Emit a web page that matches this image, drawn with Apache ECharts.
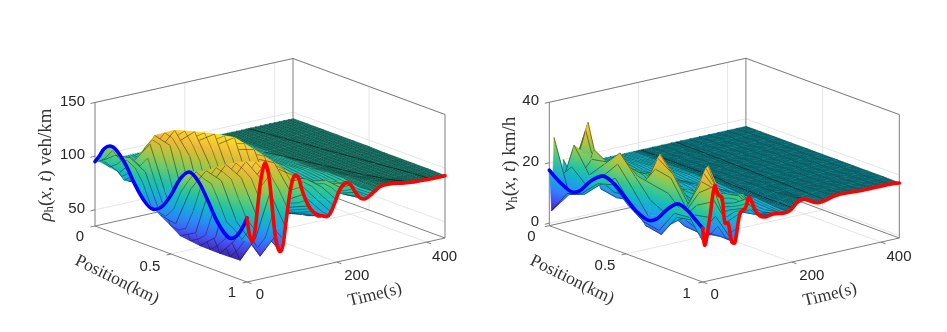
<!DOCTYPE html>
<html><head><meta charset="utf-8">
<style>html,body{margin:0;padding:0;background:#fff}#c{width:947px;height:332px}</style>
<script src="https://cdn.jsdelivr.net/npm/echarts@6/dist/echarts.min.js"></script>
</head><body><div id="c"></div>
<script>
const positions=[0,0.1,0.2,0.3,0.4,0.5,0.6,0.7,0.8,0.9,1];
const rhoTimes=[0,10.5,21,31.5,42,52.5,63,73.5,84,94.5,105,115.5,126,136.5,147,157.5,168,178.5,189,199.5,210,220.5,231,241.5,252,262.5,273,283.5,294,304.5,315,325.5,336,346.5,357,367.5,378,388.5,399,409.5,420,430.5,441];
const rho=[
[95,115,103,80,72,90,116,108,80,72,94.6],
[94,105,108,100,65,62,100,122,118,85,71],
[93,88,105,125,85,50,58,108,132,125,95],
[93,80,92,132,128,78,45,58,115,139,128],
[94,78,82,118,141,122,70,42,60,118,142],
[94,80,78,95,130,144,118,65,40,65,115],
[94,84,78,82,105,135,146,112,62,48,72],
[94,88,82,78,88,112,136,147,108,68,57],
[94,91,86,80,80,92,116,135,140,106,80],
[94,93,90,84,78,82,96,118,130,132,112],
[94,94,92,88,80,77,84,98,116,125,124],
[94,94,94,91,84,77,76,86,98,110,120],
[94,94,95,94,88,80,74,78,87,95,105],
[94,94,95,96,92,85,76,74,80,87,93],
[94,94,94,96,96,90,82,74,76,81,87],
[94,94,94,95,97,96,88,80,74,78,82],
[94,94,93,94,96,98,96,87,79,76,81],
[94,93,93,93,94,96,99,96,87,80,78],
[94,94,93,92,92,94,97,100,97,89,82],
[94,94,94,92,91,92,94,98,102,100,93],
[94,94,94,93,91,90,91,94,99,105,103],
[94,94,94,94,92,90,89,91,94,101,107],
[94,94,94,94,92,90,90,88,90,95,104],
[94,94,94,94,94,92,90,90,88,90,96],
[94,94,94,94,94,94,92,90,90,88,90],
[94,94,94,94,94,94,94,92,90,90,88],
[94,94,94,94,94,94,95,94,92,90,90],
[94,94,94,94,94,94,94,95,95,92,93],
[94,94,94,94,94,94,94,95,96,95,96],
[94,94,94,94,94,94,94,94,95,96,97],
[94,94,94,94,94,94,94,94,94,96,97],
[94,94,94,94,94,94,94,94,94,95,97],
[94,94,94,94,94,94,94,94,94,94.5,96.5],
[94,94,94,94,94,94,94,94,94,94,96],
[94,94,94,94,94,94,94,94,94,94,95.5],
[94,94,94,94,94,94,94,94,94,94,95],
[94,94,94,94,94,94,94,94,94,94,94.5],
[94,94,94,94,94,94,94,94,94,94,94],
[94,94,94,94,94,94,94,94,94,94,93.5],
[94,94,94,94,94,94,94,94,94,93.5,93.5],
[94,94,94,94,94,94,94,94,93.5,93.5,93],
[94,94,94,94,94,94,94,93.5,93.5,93.5,93],
[94,94,94,94,94,94,93.5,93.5,93.5,93.5,93]];
const rhoBlueX=[0,0.03,0.06,0.1,0.14,0.2,0.26,0.32,0.38,0.44,0.5,0.56,0.62,0.68,0.74,0.8,0.85,0.89,0.93,0.97,1];
const rhoBlue=[95,102,110,114.7,113,103,88,76,70.5,76,90,108,117.6,112,98,82,73,70,74,84,94.6];
const rhoRedT=[0,5,11.5,17,23,30,36,40,45,50,56,63,69,74,80,86,94,101,107,114,122,131,140,147,158,168,178,186,197,207,220,231,240,252,263,273,284,295,305,325,345,365,385,410,441];
const rhoRed=[94.6,80,71,79,100,125,138,142,137,125,100,72,60,56.5,62,80,105,120,124.5,122,110,99,91,87,82,81,79.5,82,92,102,107,104,97,90,88,90,93,96,97,96.5,95,94,93.5,93,93];
const rhoBands=[[341,348,354,361,367,374,381,387,394,400,407],[null,null,null,275,286,296,307,317,328,338,349]];

const velTimes=[0,5.25,10.5,15.75,21,26.25,31.5,36.75,42,47.25,52.5,57.75,63,73.5,84,94.5,105,115.5,126,136.5,147,157.5,168,178.5,189,199.5,210,231,252,273,294,315,336,357,378,399,420,441];
const vel=[
[17.6,13.8,15.0,20.5,21.0,17.5,14.0,14.5,21.0,20.5,17.0],
[4.0,11.5,13.5,18.5,20.0,15.0,11.5,10.5,18.0,18.5,11.2],
[28.0,11.0,13.0,18.0,22.0,15.5,10.0,9.0,16.5,17.5,14.0],
[14.0,20.0,15.5,20.5,26.5,20.0,13.0,11.0,15.5,19.0,20.0],
[9.0,27.0,19.0,24.5,30.0,24.0,18.0,15.5,15.5,22.0,25.0],
[14.0,15.0,24.0,25.0,28.5,24.0,23.0,22.0,17.0,26.0,30.0],
[20.0,12.0,27.0,24.0,24.0,20.5,28.0,27.0,19.0,29.5,28.5],
[12.0,16.0,24.0,19.0,19.0,19.0,31.5,28.0,20.0,32.0,27.0],
[9.0,24.0,17.0,14.5,15.0,21.0,32.5,26.5,20.0,33.5,26.0],
[12.0,31.0,13.5,12.5,13.5,19.5,29.0,23.0,18.0,34.0,22.0],
[16.0,33.5,13.0,13.0,14.0,16.0,23.0,18.0,14.5,29.0,17.0],
[13.0,24.0,14.0,15.0,16.0,14.0,16.5,13.0,11.0,23.0,16.0],
[14.0,16.0,16.0,18.0,18.0,14.5,12.5,10.0,9.5,17.0,11.5],
[16.0,15.0,19.0,22.0,21.0,17.0,12.0,10.0,9.5,10.0,9.8],
[17.0,16.5,17.5,20.0,21.0,19.0,15.0,12.5,11.0,14.0,19.2],
[17.5,18.0,16.0,17.0,18.0,19.0,18.0,16.0,14.5,18.0,20.5],
[17.5,18.0,17.0,16.0,16.0,17.0,19.0,19.0,18.0,20.0,23.5],
[17.5,17.0,18.0,17.0,15.5,15.0,16.0,18.0,21.0,22.0,19.5],
[17.5,17.0,17.0,18.0,16.5,15.0,14.5,15.0,18.0,22.0,17.0],
[17.5,17.5,16.5,17.0,17.0,16.0,14.5,14.0,15.0,18.0,16.1],
[17.5,17.5,17.0,16.5,17.0,17.0,15.5,14.5,14.0,15.0,16.3],
[17.5,17.5,17.5,17.0,16.5,17.0,16.5,15.5,14.5,14.5,16.5],
[17.5,17.5,17.5,17.5,17.0,16.5,17.0,16.5,15.5,15.0,16.2],
[17.5,17.5,17.5,17.5,17.5,17.0,16.5,17.0,16.5,16.0,16.0],
[17.5,17.5,17.5,17.5,17.5,17.5,17.0,16.5,17.0,16.5,16.2],
[17.5,17.5,17.5,17.5,17.5,17.5,17.0,17.0,16.8,16.8,16.8],
[17.5,17.5,17.5,17.5,17.5,17.5,17.3,17.2,17.2,17.5,18.0],
[17.5,17.5,17.5,17.5,17.5,17.5,17.5,17.5,17.6,18.0,18.7],
[17.5,17.5,17.5,17.5,17.5,17.5,17.5,17.5,17.4,17.2,17.0],
[17.5,17.5,17.5,17.5,17.5,17.5,17.5,17.5,17.5,17.5,17.5],
[17.5,17.5,17.5,17.5,17.5,17.5,17.5,17.5,17.6,17.8,18.0],
[17.5,17.5,17.5,17.5,17.5,17.5,17.5,17.5,17.6,17.7,17.9],
[17.5,17.5,17.5,17.5,17.5,17.5,17.5,17.5,17.6,17.7,17.8],
[17.5,17.5,17.5,17.5,17.5,17.5,17.5,17.5,17.5,17.6,17.7],
[17.5,17.5,17.5,17.5,17.5,17.5,17.5,17.5,17.5,17.6,17.7],
[17.5,17.5,17.5,17.5,17.5,17.5,17.5,17.5,17.5,17.6,17.7],
[17.5,17.5,17.5,17.5,17.5,17.5,17.5,17.5,17.5,17.5,17.6],
[17.5,17.5,17.5,17.5,17.5,17.5,17.5,17.5,17.5,17.5,17.4]];
const velBlueX=[0,0.05,0.1,0.146,0.2,0.27,0.35,0.42,0.5,0.57,0.643,0.7,0.77,0.838,0.9,0.95,1];
const velBlue=[17.6,15.5,14,13.1,14.5,19,22.1,21,17.5,14.5,13,14.5,19,22,21,19,16.9];
const velRedT=[0,5,16,27,35,43,50,57,65,72,84,96,104,118,128,140,158,181,195,222,258,300,359,420,441];
const velRed=[17,11.2,20,30.2,26.8,25.8,17,16.8,10.4,9.8,19.2,20.5,23.8,19.1,16.9,16.1,16.5,16,16.3,19.3,16.9,18,17.7,17.7,17.4];
const velBands=[[284,283,282,281,280,279,277,276,275,273,272],[205,205,205,205,205,205,205,205,205,205,205]];

const rhoZTicks=[50,100,150], velZTicks=[0,20,40];
const posTicks=[0,0.5,1], timeTicks=[0,200,400];

const parula=[[62,38,168],[71,76,238],[50,122,253],[33,157,232],[17,184,199],[47,198,151],[118,203,102],[184,196,56],[236,185,57],[253,210,48],[249,251,21]];
function pcolor(f,d){f=Math.max(0,Math.min(1,f))*10;const k=Math.min(9,Math.floor(f)),u=f-k,a=parula[k],b=parula[k+1];
 const c=[0,1,2].map(n=>Math.round((a[n]+(b[n]-a[n])*u)*d));return 'rgb('+c.join(',')+')';}

const panels=[
 {name:'rho',L:[95,226],xv:[152,56],tv:[198,-44],zs:1.074,zmin:35,zmax:150,tmax:441,clim:[42,154],rows:rho,times:rhoTimes,
  blueX:rhoBlueX,blue:rhoBlue,redT:rhoRedT,red:rhoRed,bands:rhoBands,dense:27,zTicks:rhoZTicks,
  zLabelX:85,posOff:[[-15,11],[-21,13],[-15,11]],timeOff:[[13,13],[20,14],[18,15]],
  zt:[46,165],pt:[117,280],tt:[375,295]},
 {name:'vel',L:[549.3,225.7],xv:[153.4,56.3],tv:[196.6,-44],zs:3.025,zmin:-0.8,zmax:40,tmax:441,clim:[4,37.7],rows:vel,times:velTimes,
  blueX:velBlueX,blue:velBlue,redT:velRedT,red:velRed,bands:velBands,dense:24,zTicks:velZTicks,
  zLabelX:539,posOff:[[-18,11],[-21,12],[-16,12]],timeOff:[[12,13],[20,14],[18,15]],
  zt:[510,164],pt:[572,280],tt:[830,295]}
];
function proj(P,x,t,z,api){
 const sx=P.L[0]+P.xv[0]*x+P.tv[0]*t/P.tmax;
 const sy=P.L[1]+P.xv[1]*x+P.tv[1]*t/P.tmax-(z-P.zmin)*P.zs;
 return api.coord([sx,sy]);
}
function lerp(a,b,u){return [a[0]+(b[0]-a[0])*u,a[1]+(b[1]-a[1])*u];}
function line(pts,color,w){return {type:'polyline',silent:true,shape:{points:pts},style:{fill:null,stroke:color,lineWidth:w}};}

function triangle(P,a,b,c,za,zb,zc,d){
 const nf=z=>(z-P.clim[0])/(P.clim[1]-P.clim[0]);
 const lo=Math.min(za,zb,zc),hi=Math.max(za,zb,zc);
 const m11=b[0]-a[0],m12=b[1]-a[1],m21=c[0]-a[0],m22=c[1]-a[1],det=m11*m22-m12*m21;
 let fill=pcolor(nf((lo+hi)/2),d);
 if(hi-lo>=0.2&&Math.abs(det)>0.5){
  const r1=zb-za,r2=zc-za,gx=(r1*m22-r2*m12)/det,gy=(m11*r2-m21*r1)/det,g2=gx*gx+gy*gy;
  if(g2>1e-9){
   const s0=(lo-za)/g2,s1=(hi-za)/g2;
   fill={type:'linear',global:true,x:a[0]+gx*s0,y:a[1]+gy*s0,x2:a[0]+gx*s1,y2:a[1]+gy*s1,
    colorStops:[0,0.25,0.5,0.75,1].map(u=>({offset:u,color:pcolor(nf(lo+(hi-lo)*u),d)}))};
  }
 }
 return {type:'polygon',silent:true,shape:{points:[a,b,c]},style:{fill,stroke:fill,lineWidth:0.45}};
}
function surfaceSeries(P){
 const nx=positions.length,nt=P.times.length,data=[];
 for(let i=0;i<nx-1;i++)for(let j=nt-2;j>=0;j--)data.push([i,j]);
 return {type:'custom',coordinateSystem:'cartesian2d',silent:true,animation:false,clip:false,data,
  renderItem(params,api){
   const i=api.value(0),j=api.value(1),R=P.rows,T=P.times,X=positions;
   const zz=[R[j][i],R[j][i+1],R[j+1][i+1],R[j+1][i]];
   const pts=[proj(P,X[i],T[j],zz[0],api),proj(P,X[i+1],T[j],zz[1],api),proj(P,X[i+1],T[j+1],zz[2],api),proj(P,X[i],T[j+1],zz[3],api)];
   const isDense=j>=P.dense, d=isDense?0.72:1;
   const kids=[];
   const diagA=Math.abs(zz[0]-zz[2])<=Math.abs(zz[1]-zz[3]);
   if(diagA){
    kids.push(triangle(P,pts[0],pts[2],pts[3],zz[0],zz[2],zz[3],d));
    kids.push(triangle(P,pts[0],pts[1],pts[2],zz[0],zz[1],zz[2],d));
   }else{
    kids.push(triangle(P,pts[1],pts[2],pts[3],zz[1],zz[2],zz[3],d));
    kids.push(triangle(P,pts[0],pts[1],pts[3],zz[0],zz[1],zz[3],d));
   }
   if(isDense){
    const n=14,zig=[];
    for(let m=0;m<=n;m++)zig.push(m%2?lerp(pts[3],pts[2],m/n):lerp(pts[0],pts[1],m/n));
    kids.push(line(zig,'rgba(0,0,0,0.3)',0.5));
   }else if(T[j+1]-T[j]>=10){
    const mid=diagA?lerp(pts[0],pts[2],0.5):lerp(pts[1],pts[3],0.5);
    kids.push(line([lerp(pts[0],pts[3],0.5),mid,lerp(pts[1],pts[2],0.5)],'rgba(0,0,0,0.62)',0.55));
   }
   kids.push(line([pts[3],pts[2]],isDense?'rgba(0,0,0,0.45)':'rgba(0,0,0,0.72)',0.6));
   P.bands.forEach(b=>{
    if(b[i]==null||b[i+1]==null)return;
    if(b[i]>=T[j]&&b[i]<T[j+1]){
     const a=proj(P,X[i],b[i],zz[0],api),c=proj(P,X[i+1],b[i+1],zz[1],api);
     kids.push(line([a,c],'rgba(0,0,0,0.6)',0.9));
    }
   });
   return {type:'group',children:kids};
  }};
}
function pathSeries(P,kind){
 const isBlue=kind==='blue';
 return {type:'custom',coordinateSystem:'cartesian2d',silent:true,animation:false,clip:false,data:[0],
  renderItem(params,api){
   const pts=isBlue?P.blueX.map((x,k)=>proj(P,x,0,P.blue[k],api)):P.redT.map((t,k)=>proj(P,1,t,P.red[k],api));
   return {type:'polyline',silent:true,shape:{points:pts,smooth:0.35},style:{fill:null,stroke:isBlue?'#0000ff':'#ff0000',lineWidth:3.6,lineCap:'round',lineJoin:'round'}};
  }};
}
function frameSeries(P){
 return {type:'custom',coordinateSystem:'cartesian2d',silent:true,animation:false,clip:false,data:[0],
  renderItem(params,api){
   const p=(x,t,z)=>proj(P,x,t,z,api),m=P.tmax,zb=P.zmin,zt=P.zmax,kids=[];
   const G='#e6e6e6',A='#707070';
   P.zTicks.forEach(z=>{kids.push(line([p(0,0,z),p(0,m,z),p(1,m,z)],G,1));});
   posTicks.forEach(x=>{if(x>0&&x<1){kids.push(line([p(x,0,zb),p(x,m,zb),p(x,m,zt)],G,1));}});
   timeTicks.forEach(t=>{if(t>0){kids.push(line([p(1,t,zb),p(0,t,zb),p(0,t,zt)],G,1));}});
   [[p(0,0,zb),p(0,0,zt)],[p(0,0,zt),p(0,m,zt)],[p(0,m,zt),p(1,m,zt)],[p(1,m,zt),p(1,m,zb)],[p(0,m,zb),p(0,m,zt)],
    [p(0,0,zb),p(0,m,zb)],[p(0,m,zb),p(1,m,zb)],[p(0,0,zb),p(1,0,zb)],[p(1,0,zb),p(1,m,zb)]].forEach(s=>kids.push(line(s,A,0.9)));
   P.zTicks.forEach(z=>{if(z>zb)kids.push(line([p(0,0,z),p(0,-10,z)],A,0.9));});
   posTicks.forEach(x=>kids.push(line([p(x,0,zb),p(x,-10,zb)],A,0.9)));
   timeTicks.forEach(t=>kids.push(line([p(1,t,zb),p(1.03,t,zb)],A,0.9)));
   const tick=(txt,pt,align)=>({type:'text',silent:true,x:pt[0],y:pt[1],style:{text:txt,fill:'#262626',font:'15px "Liberation Sans"',align:align||'center',verticalAlign:'middle'}});
   P.zTicks.forEach(z=>{const q=p(0,0,z);kids.push(tick(String(z),[P.zLabelX,q[1]-1],'right'));});
   posTicks.forEach((x,k)=>{const q=p(x,0,zb);kids.push(tick(String(x),[q[0]+P.posOff[k][0],q[1]+P.posOff[k][1]]));});
   timeTicks.forEach((t,k)=>{const q=p(1,t,zb);kids.push(tick(String(t),[q[0]+P.timeOff[k][0],q[1]+P.timeOff[k][1]]));});
   return {type:'group',children:kids};
  }};
}
const serif='"Liberation Serif"';
function titleEls(P){
 const base={fill:'#333',font:'19px '+serif,align:'center',verticalAlign:'middle'};
 const ri={i:{fontStyle:'italic',fontFamily:'Liberation Serif',fontSize:19,fill:'#333'},
           n:{fontFamily:'Liberation Serif',fontSize:19,fill:'#333'},
           s:{fontFamily:'Liberation Serif',fontSize:13,fill:'#333',padding:[8,0,0,0]}};
 const zText=P.name==='rho'?'{i|ρ}{s|h}{n|(}{i|x}{n|, }{i|t}{n|) veh/km}':'{i|v}{s|h}{n|(}{i|x}{n|, }{i|t}{n|) km/h}';
 return [
  {type:'text',silent:true,x:P.zt[0],y:P.zt[1],rotation:Math.PI/2,style:Object.assign({},base,{text:zText,rich:ri})},
  {type:'text',silent:true,x:P.pt[0],y:P.pt[1],rotation:-26*Math.PI/180,style:Object.assign({},base,{text:'Position(km)',font:'17.5px '+serif})},
  {type:'text',silent:true,x:P.tt[0],y:P.tt[1],rotation:14*Math.PI/180,style:Object.assign({},base,{text:'Time(s)',font:'17.5px '+serif})}
 ];
}
const series=[];
panels.forEach(P=>{series.push(frameSeries(P),surfaceSeries(P),pathSeries(P,'blue'),pathSeries(P,'red'));});
const chart=echarts.init(document.getElementById('c'),null,{renderer:'canvas'});
chart.setOption({animation:false,backgroundColor:'#fff',
 grid:{left:0,right:0,top:0,bottom:0},
 xAxis:{type:'value',min:0,max:947,show:false},
 yAxis:{type:'value',min:0,max:332,inverse:true,show:false},
 graphic:{elements:[].concat(...panels.map(titleEls))},
 series});
</script></body></html>
